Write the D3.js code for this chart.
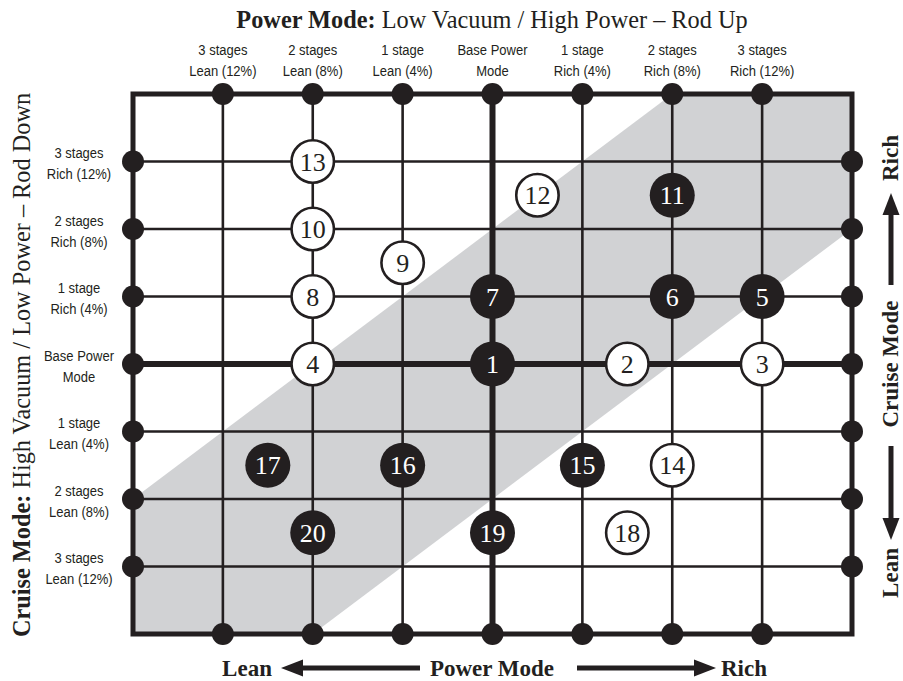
<!DOCTYPE html>
<html><head><meta charset="utf-8">
<script src="https://cdn.jsdelivr.net/npm/d3@7"></script>
<style>
html,body{margin:0;padding:0;background:#fff;}
svg{display:block;}
</style></head>
<body>
<svg id="chart" width="903" height="681"></svg>
<script>
// ---- data ----
const colSteps = [-3,-2,-1,0,1,2,3];
const colLabels = [["3 stages","Lean (12%)"],["2 stages","Lean (8%)"],["1 stage","Lean (4%)"],["Base Power","Mode"],["1 stage","Rich (4%)"],["2 stages","Rich (8%)"],["3 stages","Rich (12%)"]];
const rowSteps = [3,2,1,0,-1,-2,-3];
const rowLabels = [["3 stages","Rich (12%)"],["2 stages","Rich (8%)"],["1 stage","Rich (4%)"],["Base Power","Mode"],["1 stage","Lean (4%)"],["2 stages","Lean (8%)"],["3 stages","Lean (12%)"]];
const pointIds   = [1,2,3,4,5,6,7,8,9,10,11,12,13,14,15,16,17,18,19,20];
const pointPower = [0,1.5,3,-2,3,2,0,-2,-1,-2,2,0.5,-2,2,1,-1,-2.5,1.5,0,-2];
const pointCruise= [0,0,0,0,1,1,1,1,1.5,2,2.5,2.5,3,-1.5,-1.5,-1.5,-1.5,-2.5,-2.5,-2.5];
const pointFilled= [1,0,0,0,1,1,1,0,0,0,1,0,0,0,1,1,1,0,1,1];
const bandU = [-4,-4,2,4,4,-2];
const bandV = [-4,-2,4,4,2,-4];

const BLACK = "#231f20", GRAY = "#d1d2d4";
const serif = "'Liberation Serif','Times New Roman',serif";
const narrow = "'Liberation Sans Narrow','Arial Narrow','Liberation Sans',sans-serif";

const svg = d3.select("#chart");
const x = d3.scaleLinear().domain([-4,4]).range([133,852]);
const y = d3.scaleLinear().domain([-4,4]).range([634,94]);

// band
svg.append("polygon")
  .attr("points", bandU.map((u,i)=>[x(u),y(bandV[i])].join(",")).join(" "))
  .attr("fill", GRAY);

// grid lines
svg.selectAll("line.col").data(colSteps).join("line")
  .attr("x1", d=>x(d)).attr("x2", d=>x(d)).attr("y1", y(4)).attr("y2", y(-4))
  .attr("stroke", BLACK).attr("stroke-width", d=>d===0?6:2.6);
svg.selectAll("line.row").data(rowSteps).join("line")
  .attr("y1", d=>y(d)).attr("y2", d=>y(d)).attr("x1", x(-4)).attr("x2", x(4))
  .attr("stroke", BLACK).attr("stroke-width", d=>d===0?6:2.6);

// frame
svg.append("rect").attr("x", x(-4)).attr("y", y(4)).attr("width", x(4)-x(-4)).attr("height", y(-4)-y(4))
  .attr("fill","none").attr("stroke",BLACK).attr("stroke-width",5);

// frame dots
const dr = 11;
colSteps.forEach(c=>{
  svg.append("circle").attr("cx",x(c)).attr("cy",y(4)).attr("r",dr).attr("fill",BLACK);
  svg.append("circle").attr("cx",x(c)).attr("cy",y(-4)).attr("r",dr).attr("fill",BLACK);
});
rowSteps.forEach(r=>{
  svg.append("circle").attr("cx",x(-4)).attr("cy",y(r)).attr("r",dr).attr("fill",BLACK);
  svg.append("circle").attr("cx",x(4)).attr("cy",y(r)).attr("r",dr).attr("fill",BLACK);
});

// points
const pts = pointIds.map((id,i)=>({id, u:pointPower[i], v:pointCruise[i], f:pointFilled[i]}));
const g = svg.selectAll("g.pt").data(pts).join("g").attr("transform", d=>`translate(${x(d.u)},${y(d.v)})`);
g.append("circle").attr("r", d=>d.f?22.5:21.2)
  .attr("fill", d=>d.f?BLACK:"#fff").attr("stroke", BLACK).attr("stroke-width", d=>d.f?0:2.6);
g.append("text").text(d=>d.id).attr("text-anchor","middle").attr("dy","0.35em")
  .attr("font-family", serif).attr("font-size", 26).attr("fill", d=>d.f?"#fff":BLACK);

// condensed label helper
function label(cx, y1, y2, lines){
  const t = svg.append("text").attr("transform",`translate(${cx},0) scale(0.84,1)`)
    .attr("text-anchor","middle").attr("font-family",narrow).attr("font-size",15.5).attr("fill",BLACK);
  t.append("tspan").attr("x",0).attr("y",y1).text(lines[0]);
  t.append("tspan").attr("x",0).attr("y",y2).text(lines[1]);
}
colSteps.forEach((c,i)=> label(x(c), 55, 76, colLabels[i]));
rowSteps.forEach((r,i)=> label(79, y(r)-3, y(r)+18, rowLabels[i]));

// top title
const tt = svg.append("text").attr("x",492).attr("y",28).attr("text-anchor","middle")
  .attr("font-family",serif).attr("font-size",24.3).attr("fill",BLACK);
tt.append("tspan").attr("font-weight","bold").text("Power Mode:");
tt.append("tspan").text(" Low Vacuum / High Power \u2013 Rod Up");

// left title
const lt = svg.append("text").attr("transform","translate(30,365) rotate(-90)").attr("text-anchor","middle")
  .attr("font-family",serif).attr("font-size",24.3).attr("fill",BLACK);
lt.append("tspan").attr("font-weight","bold").text("Cruise Mode:");
lt.append("tspan").text(" High Vacuum / Low Power \u2013 Rod Down");

// arrows helper
function arrow(x1,y1,x2,y2){
  const ang = Math.atan2(y2-y1,x2-x1), L=22, W=8.5;
  const bx = x2 - L*Math.cos(ang), by = y2 - L*Math.sin(ang);
  svg.append("line").attr("x1",x1).attr("y1",y1).attr("x2",bx).attr("y2",by)
    .attr("stroke",BLACK).attr("stroke-width",5);
  const px = -Math.sin(ang)*W, py = Math.cos(ang)*W;
  svg.append("polygon").attr("points",`${x2},${y2} ${bx+px},${by+py} ${bx-px},${by-py}`).attr("fill",BLACK);
}
const boldText = (tx,ty,s,rot,fs)=> svg.append("text")
  .attr("transform",`translate(${tx},${ty})`+(rot?" rotate(-90)":""))
  .attr("text-anchor","middle").attr("font-family",serif).attr("font-weight","bold")
  .attr("font-size",fs||23).attr("fill",BLACK).text(s);

// bottom
boldText(247,676,"Lean");
boldText(492,676,"Power Mode");
boldText(744,676,"Rich");
arrow(420,668,281,668);
arrow(577,668,716,668);

// right
boldText(898,158,"Rich",true,23);
boldText(898,364,"Cruise Mode",true,23);
boldText(898,573,"Lean",true,23);
arrow(891,285,891,193);
arrow(891,446,891,540);
</script>
</body></html>
